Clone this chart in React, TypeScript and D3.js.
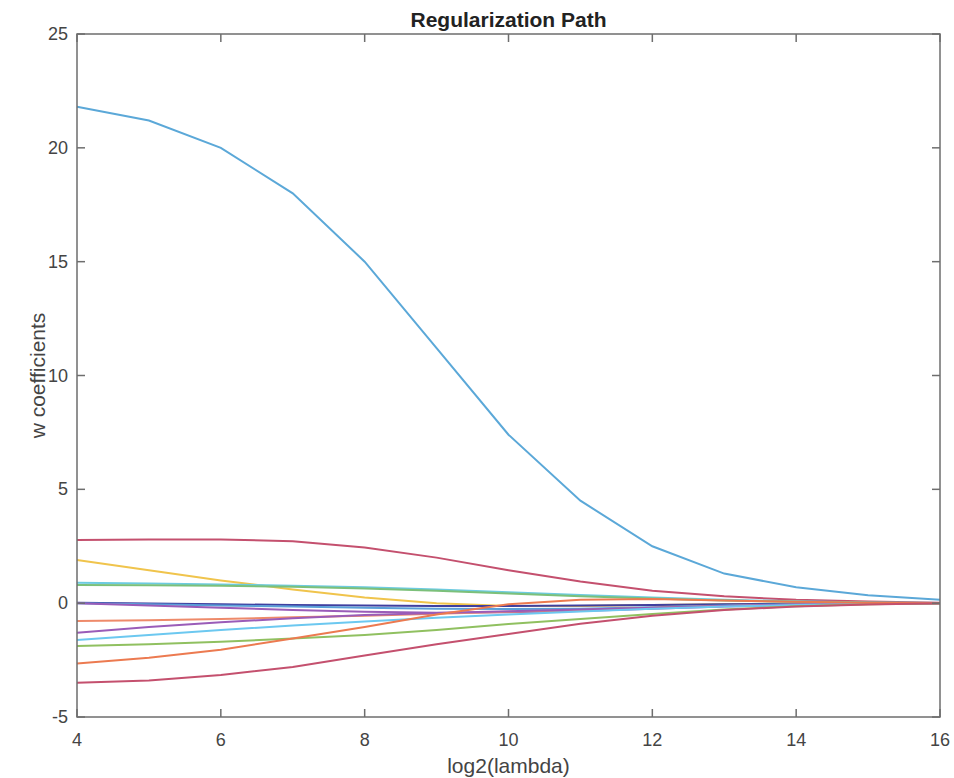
import { useEffect, useRef } from "react";
import * as d3 from "d3";

// log2(lambda) sample points
const lambdas = [4, 5, 6, 7, 8, 9, 10, 11, 12, 13, 14, 15, 16];

// coefficient paths, one array per feature (values at each lambda)
const w1 = [21.8, 21.2, 20.0, 18.0, 15.0, 11.2, 7.4, 4.5, 2.5, 1.3, 0.7, 0.35, 0.15];
const w2 = [2.78, 2.8, 2.8, 2.72, 2.45, 2.0, 1.45, 0.95, 0.55, 0.3, 0.15, 0.07, 0.02];
const w3 = [1.9, 1.45, 1.0, 0.6, 0.25, 0.0, -0.12, -0.12, -0.08, -0.05, -0.02, -0.01, 0];
const w4 = [0.9, 0.86, 0.82, 0.77, 0.7, 0.6, 0.48, 0.36, 0.25, 0.15, 0.08, 0.03, 0.01];
const w5 = [0.8, 0.79, 0.77, 0.72, 0.64, 0.54, 0.42, 0.3, 0.2, 0.12, 0.06, 0.02, 0.01];
const w6 = [0.02, -0.02, -0.05, -0.08, -0.1, -0.12, -0.12, -0.1, -0.08, -0.05, -0.03, -0.01, 0];
const w7 = [0.0, -0.05, -0.1, -0.15, -0.2, -0.24, -0.26, -0.24, -0.18, -0.1, -0.05, -0.02, 0];
const w8 = [0.0, -0.1, -0.2, -0.3, -0.38, -0.42, -0.4, -0.34, -0.25, -0.15, -0.08, -0.03, 0];
const w9 = [-0.78, -0.75, -0.7, -0.62, -0.55, -0.46, -0.38, -0.3, -0.2, -0.12, -0.06, -0.03, 0];
const w10 = [-1.3, -1.05, -0.84, -0.66, -0.52, -0.43, -0.36, -0.28, -0.2, -0.12, -0.06, -0.03, 0];
const w11 = [-1.62, -1.4, -1.18, -0.98, -0.8, -0.64, -0.5, -0.37, -0.25, -0.15, -0.08, -0.03, 0];
const w12 = [-1.88, -1.8, -1.7, -1.55, -1.4, -1.18, -0.92, -0.7, -0.48, -0.28, -0.13, -0.05, 0];
const w13 = [-2.65, -2.4, -2.05, -1.55, -1.05, -0.5, -0.05, 0.15, 0.18, 0.12, 0.06, 0.02, 0];
const w14 = [-3.5, -3.4, -3.15, -2.8, -2.3, -1.8, -1.35, -0.9, -0.55, -0.3, -0.15, -0.06, 0];

const series = [w1, w2, w3, w4, w5, w6, w7, w8, w9, w10, w11, w12, w13, w14];
const colors = [
  "#5ba8d8", "#c4506e", "#f0c44c", "#6dcbe0", "#7cc07a", "#3f3f9f", "#5a9fd8",
  "#9a5cb8", "#ee8a6a", "#9a5cb8", "#6cc8f0", "#90c060", "#ec7a50", "#c4506e",
];

const xTicks = [4, 6, 8, 10, 12, 14, 16];
const yTicks = [-5, 0, 5, 10, 15, 20, 25];

export default function App() {
  const ref = useRef<SVGSVGElement>(null);

  useEffect(() => {
    document.body.style.margin = "0";
    const width = 954,
      height = 778,
      margin = { top: 34, right: 14, bottom: 61, left: 77 };
    const font = "'Liberation Sans', Arial, sans-serif";

    const svg = d3.select(ref.current);
    svg.selectAll("*").remove();

    const x = d3.scaleLinear().domain([4, 16]).range([margin.left, width - margin.right]);
    const y = d3.scaleLinear().domain([-5, 25]).range([height - margin.bottom, margin.top]);

    svg.append("rect").attr("width", width).attr("height", height).attr("fill", "#fff");

    // lines
    const line = d3
      .line<number>()
      .x((_, i) => x(lambdas[i]))
      .y((d) => y(d));

    svg
      .append("g")
      .selectAll("path")
      .data(series)
      .enter()
      .append("path")
      .attr("d", (d) => line(d))
      .attr("fill", "none")
      .attr("stroke", (_, i) => colors[i])
      .attr("stroke-width", 2);

    // box and inward ticks
    const axisColor = "#6e6e6e";
    const [x0, x1] = x.range();
    const [y0, y1] = y.range();
    svg
      .append("rect")
      .attr("x", x0)
      .attr("y", y1)
      .attr("width", x1 - x0)
      .attr("height", y0 - y1)
      .attr("fill", "none")
      .attr("stroke", axisColor)
      .attr("stroke-width", 1.5);

    const tl = 8;
    const ticks = svg.append("g").attr("stroke", axisColor).attr("stroke-width", 1.5);
    xTicks.forEach((t) => {
      ticks.append("line").attr("x1", x(t)).attr("x2", x(t)).attr("y1", y0).attr("y2", y0 - tl);
      ticks.append("line").attr("x1", x(t)).attr("x2", x(t)).attr("y1", y1).attr("y2", y1 + tl);
    });
    yTicks.forEach((t) => {
      ticks.append("line").attr("x1", x0).attr("x2", x0 + tl).attr("y1", y(t)).attr("y2", y(t));
      ticks.append("line").attr("x1", x1).attr("x2", x1 - tl).attr("y1", y(t)).attr("y2", y(t));
    });

    // tick labels
    svg
      .append("g")
      .selectAll("text")
      .data(xTicks)
      .enter()
      .append("text")
      .attr("x", (d) => x(d))
      .attr("y", y0 + 29)
      .attr("text-anchor", "middle")
      .style("font-family", font)
      .style("font-size", "18px")
      .style("fill", "#444")
      .text((d) => d);

    svg
      .append("g")
      .selectAll("text")
      .data(yTicks)
      .enter()
      .append("text")
      .attr("x", x0 - 9)
      .attr("y", (d) => y(d) + 6)
      .attr("text-anchor", "end")
      .style("font-family", font)
      .style("font-size", "18px")
      .style("fill", "#444")
      .text((d) => d);

    // title
    svg
      .append("text")
      .attr("x", (x0 + x1) / 2)
      .attr("y", 27)
      .attr("text-anchor", "middle")
      .style("font-family", font)
      .style("font-size", "21px")
      .style("font-weight", "bold")
      .style("fill", "#222")
      .text("Regularization Path");

    // axis labels
    svg
      .append("text")
      .attr("x", (x0 + x1) / 2)
      .attr("y", 773)
      .attr("text-anchor", "middle")
      .style("font-family", font)
      .style("font-size", "21px")
      .style("fill", "#444")
      .text("log2(lambda)");

    svg
      .append("text")
      .attr("transform", `translate(45,${(y0 + y1) / 2}) rotate(-90)`)
      .attr("text-anchor", "middle")
      .style("font-family", font)
      .style("font-size", "21px")
      .style("fill", "#444")
      .text("w coefficients");
  }, []);

  return <svg ref={ref} width={954} height={778} style={{ display: "block" }} />;
}
